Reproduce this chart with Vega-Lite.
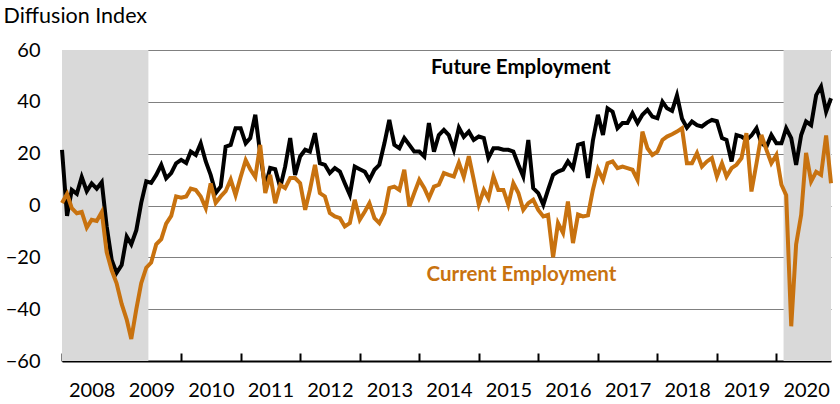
{
  "$schema": "https://vega.github.io/schema/vega-lite/v6.json",
  "width": 769,
  "height": 311,
  "autosize": {"type": "none"},
  "padding": {"left": 62, "top": 50, "right": 9, "bottom": 43},
  "background": "white",
  "config": {"view": {"stroke": null}, "font": "Lato"},
  "datasets": {
    "shade": [
      {"start": "2008-01-01", "end": "2009-06-14"},
      {"start": "2020-02-14", "end": "2020-12-01"}
    ],
    "notes": [
      {"date": "2015-09-16", "value": 53, "label": "Future Employment"},
      {"date": "2015-09-20", "value": -27, "label": "Current Employment"}
    ],
    "series": [
      {"month": "2008-01-01", "future": 21.5, "current": 1},
      {"month": "2008-02-01", "future": -4, "current": 4.5},
      {"month": "2008-03-01", "future": 6, "current": -1},
      {"month": "2008-04-01", "future": 4.5, "current": -3},
      {"month": "2008-05-01", "future": 11, "current": -2.5},
      {"month": "2008-06-01", "future": 5.5, "current": -8.5},
      {"month": "2008-07-01", "future": 8.5, "current": -5.5},
      {"month": "2008-08-01", "future": 6.5, "current": -6},
      {"month": "2008-09-01", "future": 9, "current": -2.5},
      {"month": "2008-10-01", "future": -8, "current": -18},
      {"month": "2008-11-01", "future": -21, "current": -25},
      {"month": "2008-12-01", "future": -26, "current": -30},
      {"month": "2009-01-01", "future": -23, "current": -38},
      {"month": "2009-02-01", "future": -12, "current": -44},
      {"month": "2009-03-01", "future": -15, "current": -51.5},
      {"month": "2009-04-01", "future": -9.5, "current": -40},
      {"month": "2009-05-01", "future": 1, "current": -30},
      {"month": "2009-06-01", "future": 9.3, "current": -24},
      {"month": "2009-07-01", "future": 8.7, "current": -22},
      {"month": "2009-08-01", "future": 11.8, "current": -15},
      {"month": "2009-09-01", "future": 15.7, "current": -13},
      {"month": "2009-10-01", "future": 10.5, "current": -7},
      {"month": "2009-11-01", "future": 12.5, "current": -4},
      {"month": "2009-12-01", "future": 16.3, "current": 3.5},
      {"month": "2010-01-01", "future": 17.6, "current": 3},
      {"month": "2010-02-01", "future": 16.4, "current": 3.5},
      {"month": "2010-03-01", "future": 20.8, "current": 6.5},
      {"month": "2010-04-01", "future": 19.5, "current": 6},
      {"month": "2010-05-01", "future": 24, "current": 3.5},
      {"month": "2010-06-01", "future": 17, "current": -1},
      {"month": "2010-07-01", "future": 11.8, "current": 8.5},
      {"month": "2010-08-01", "future": 4.8, "current": 1},
      {"month": "2010-09-01", "future": 7.3, "current": 3.5},
      {"month": "2010-10-01", "future": 22.7, "current": 5.5},
      {"month": "2010-11-01", "future": 23.4, "current": 10},
      {"month": "2010-12-01", "future": 29.8, "current": 4},
      {"month": "2011-01-01", "future": 29.8, "current": 11},
      {"month": "2011-02-01", "future": 24, "current": 17.5},
      {"month": "2011-03-01", "future": 26, "current": 14},
      {"month": "2011-04-01", "future": 35, "current": 11},
      {"month": "2011-05-01", "future": 20, "current": 23.4},
      {"month": "2011-06-01", "future": 7, "current": 4.8},
      {"month": "2011-07-01", "future": 14.5, "current": 11.8},
      {"month": "2011-08-01", "future": 14, "current": 0.9},
      {"month": "2011-09-01", "future": 7, "current": 8},
      {"month": "2011-10-01", "future": 15, "current": 6.7},
      {"month": "2011-11-01", "future": 26, "current": 10.6},
      {"month": "2011-12-01", "future": 11.8, "current": 10.6},
      {"month": "2012-01-01", "future": 18.9, "current": 8.6},
      {"month": "2012-02-01", "future": 21.5, "current": -1.7},
      {"month": "2012-03-01", "future": 20.8, "current": 6},
      {"month": "2012-04-01", "future": 27.9, "current": 15.7},
      {"month": "2012-05-01", "future": 16.3, "current": 4.8},
      {"month": "2012-06-01", "future": 15.7, "current": 3.5},
      {"month": "2012-07-01", "future": 12.5, "current": -2.9},
      {"month": "2012-08-01", "future": 14.4, "current": -4.2},
      {"month": "2012-09-01", "future": 13.1, "current": -4.9},
      {"month": "2012-10-01", "future": 8.6, "current": -8.1},
      {"month": "2012-11-01", "future": 4.1, "current": -6.8},
      {"month": "2012-12-01", "future": 15, "current": 2.2},
      {"month": "2013-01-01", "future": 14, "current": -5.5},
      {"month": "2013-02-01", "future": 13, "current": -2.3},
      {"month": "2013-03-01", "future": 9.9, "current": 0.9},
      {"month": "2013-04-01", "future": 13.8, "current": -4.9},
      {"month": "2013-05-01", "future": 15.7, "current": -6.8},
      {"month": "2013-06-01", "future": 24, "current": -2.9},
      {"month": "2013-07-01", "future": 33, "current": 6.7},
      {"month": "2013-08-01", "future": 23.4, "current": 7.3},
      {"month": "2013-09-01", "future": 22.1, "current": 6},
      {"month": "2013-10-01", "future": 26, "current": 13.8},
      {"month": "2013-11-01", "future": 23.4, "current": -0.4},
      {"month": "2013-12-01", "future": 20.8, "current": 4.8},
      {"month": "2014-01-01", "future": 20.8, "current": 9.9},
      {"month": "2014-02-01", "future": 18.9, "current": 6.7},
      {"month": "2014-03-01", "future": 31.8, "current": 2.8},
      {"month": "2014-04-01", "future": 20.8, "current": 7.3},
      {"month": "2014-05-01", "future": 27.2, "current": 8},
      {"month": "2014-06-01", "future": 29.2, "current": 12.5},
      {"month": "2014-07-01", "future": 27.2, "current": 11.8},
      {"month": "2014-08-01", "future": 21.5, "current": 11.2},
      {"month": "2014-09-01", "future": 30, "current": 16.5},
      {"month": "2014-10-01", "future": 26.5, "current": 11},
      {"month": "2014-11-01", "future": 28.5, "current": 19},
      {"month": "2014-12-01", "future": 25.3, "current": 10},
      {"month": "2015-01-01", "future": 26.6, "current": 0.3},
      {"month": "2015-02-01", "future": 26, "current": 6},
      {"month": "2015-03-01", "future": 18.3, "current": 2.8},
      {"month": "2015-04-01", "future": 22.1, "current": 11.2},
      {"month": "2015-05-01", "future": 22.1, "current": 6},
      {"month": "2015-06-01", "future": 21.5, "current": 6},
      {"month": "2015-07-01", "future": 21.5, "current": 0.3},
      {"month": "2015-08-01", "future": 20.8, "current": 8.6},
      {"month": "2015-09-01", "future": 15.7, "current": 4.8},
      {"month": "2015-10-01", "future": 11.2, "current": -1.7},
      {"month": "2015-11-01", "future": 25.3, "current": 0.9},
      {"month": "2015-12-01", "future": 6.7, "current": 2.2},
      {"month": "2016-01-01", "future": 4.8, "current": -1.7},
      {"month": "2016-02-01", "future": 0.3, "current": -4.2},
      {"month": "2016-03-01", "future": 6, "current": -3.6},
      {"month": "2016-04-01", "future": 11.8, "current": -20},
      {"month": "2016-05-01", "future": 13.1, "current": -6.8},
      {"month": "2016-06-01", "future": 13.8, "current": -10.6},
      {"month": "2016-07-01", "future": 17, "current": 1.5},
      {"month": "2016-08-01", "future": 14.4, "current": -14.5},
      {"month": "2016-09-01", "future": 23.4, "current": -3.5},
      {"month": "2016-10-01", "future": 24, "current": -4.2},
      {"month": "2016-11-01", "future": 10.6, "current": -3.8},
      {"month": "2016-12-01", "future": 25, "current": 6},
      {"month": "2017-01-01", "future": 35, "current": 14},
      {"month": "2017-02-01", "future": 27.2, "current": 9.9},
      {"month": "2017-03-01", "future": 37.5, "current": 16.3},
      {"month": "2017-04-01", "future": 36.2, "current": 17},
      {"month": "2017-05-01", "future": 29.8, "current": 14.4},
      {"month": "2017-06-01", "future": 31.8, "current": 15},
      {"month": "2017-07-01", "future": 31.8, "current": 14.4},
      {"month": "2017-08-01", "future": 35.6, "current": 13.8},
      {"month": "2017-09-01", "future": 31.8, "current": 9.9},
      {"month": "2017-10-01", "future": 35, "current": 28.5},
      {"month": "2017-11-01", "future": 36.9, "current": 22.1},
      {"month": "2017-12-01", "future": 34.3, "current": 19.5},
      {"month": "2018-01-01", "future": 33.7, "current": 20.8},
      {"month": "2018-02-01", "future": 40, "current": 25.3},
      {"month": "2018-03-01", "future": 37.5, "current": 26.6},
      {"month": "2018-04-01", "future": 36.5, "current": 27.5},
      {"month": "2018-05-01", "future": 42.5, "current": 28.5},
      {"month": "2018-06-01", "future": 33.5, "current": 29.8},
      {"month": "2018-07-01", "future": 30, "current": 16.3},
      {"month": "2018-08-01", "future": 32.4, "current": 16.3},
      {"month": "2018-09-01", "future": 31, "current": 20.2},
      {"month": "2018-10-01", "future": 30.5, "current": 15},
      {"month": "2018-11-01", "future": 32, "current": 17},
      {"month": "2018-12-01", "future": 33, "current": 18.3},
      {"month": "2019-01-01", "future": 32.5, "current": 11.2},
      {"month": "2019-02-01", "future": 26, "current": 16.3},
      {"month": "2019-03-01", "future": 25.3, "current": 11.2},
      {"month": "2019-04-01", "future": 17, "current": 14.4},
      {"month": "2019-05-01", "future": 27.2, "current": 15.7},
      {"month": "2019-06-01", "future": 26.6, "current": 18.3},
      {"month": "2019-07-01", "future": 25.3, "current": 27.9},
      {"month": "2019-08-01", "future": 27, "current": 5.4},
      {"month": "2019-09-01", "future": 29.8, "current": 16.3},
      {"month": "2019-10-01", "future": 24, "current": 27.2},
      {"month": "2019-11-01", "future": 22.7, "current": 21.5},
      {"month": "2019-12-01", "future": 27.2, "current": 16.3},
      {"month": "2020-01-01", "future": 24, "current": 19.5},
      {"month": "2020-02-01", "future": 24, "current": 8},
      {"month": "2020-03-01", "future": 29.8, "current": 4},
      {"month": "2020-04-01", "future": 26, "current": -46.6},
      {"month": "2020-05-01", "future": 15.7, "current": -15},
      {"month": "2020-06-01", "future": 27.2, "current": -3.6},
      {"month": "2020-07-01", "future": 32.4, "current": 20.3},
      {"month": "2020-08-01", "future": 31, "current": 9.3},
      {"month": "2020-09-01", "future": 42.6, "current": 13},
      {"month": "2020-10-01", "future": 45.9, "current": 11.8},
      {"month": "2020-11-01", "future": 36.2, "current": 27},
      {"month": "2020-12-01", "future": 41.4, "current": 8.6}
    ]
  },
  "layer": [
    {
      "data": {"name": "shade"},
      "mark": {"type": "rect", "color": "#D9D9D9"},
      "encoding": {
        "x": {
          "field": "start",
          "type": "temporal",
          "scale": {"type": "utc", "domain": [{"year": 2008, "month": 1, "date": 1, "utc": true}, {"year": 2020, "month": 12, "date": 1, "utc": true}]},
          "axis": {
            "title": null,
            "values": [
              {"year": 2008, "month": 1, "date": 1, "utc": true},
              {"year": 2009, "month": 1, "date": 1, "utc": true},
              {"year": 2010, "month": 1, "date": 1, "utc": true},
              {"year": 2011, "month": 1, "date": 1, "utc": true},
              {"year": 2012, "month": 1, "date": 1, "utc": true},
              {"year": 2013, "month": 1, "date": 1, "utc": true},
              {"year": 2014, "month": 1, "date": 1, "utc": true},
              {"year": 2015, "month": 1, "date": 1, "utc": true},
              {"year": 2016, "month": 1, "date": 1, "utc": true},
              {"year": 2017, "month": 1, "date": 1, "utc": true},
              {"year": 2018, "month": 1, "date": 1, "utc": true},
              {"year": 2019, "month": 1, "date": 1, "utc": true},
              {"year": 2020, "month": 1, "date": 1, "utc": true}
            ],
            "format": "%Y",
            "labelOffset": 29.7,
            "labelFontSize": 20,
            "labelColor": "#000000",
            "labelPadding": 27,
            "labelFlush": false,
            "labelOverlap": false,
            "tickSize": -8,
            "tickColor": "#000000",
            "tickWidth": 2,
            "domainColor": "#000000",
            "domainWidth": 2,
            "grid": false
          }
        },
        "x2": {"field": "end"}
      }
    },
    {
      "mark": {"type": "rule", "color": "#000000", "strokeWidth": 2.5},
      "encoding": {"y": {"datum": 0}}
    },
    {
      "data": {"name": "series"},
      "mark": {"type": "line", "color": "#000000", "strokeWidth": 4, "strokeJoin": "miter"},
      "encoding": {
        "x": {"field": "month", "type": "temporal"},
        "y": {
          "field": "future",
          "type": "quantitative",
          "scale": {"domain": [-60, 60], "nice": false, "zero": false},
          "axis": {
            "values": [-60, -40, -20, 0, 20, 40, 60],
            "grid": true,
            "gridColor": "#808080",
            "gridWidth": 1.2,
            "domain": false,
            "ticks": false,
            "labelPadding": 22,
            "labelFontSize": 20,
            "labelColor": "#000000",
            "title": "Diffusion Index",
            "titleAngle": 0,
            "titleAlign": "left",
            "titleBaseline": "alphabetic",
            "titleX": -59,
            "titleY": -28,
            "titleFontSize": 21.5,
            "titleFontWeight": "normal",
            "titleColor": "#000000"
          }
        }
      }
    },
    {
      "data": {"name": "series"},
      "mark": {"type": "line", "color": "#C8720F", "strokeWidth": 4, "strokeJoin": "miter"},
      "encoding": {
        "x": {"field": "month", "type": "temporal"},
        "y": {"field": "current", "type": "quantitative"}
      }
    },
    {
      "data": {"name": "notes"},
      "mark": {"type": "text", "fontSize": 20.5, "fontWeight": "bold", "align": "center", "baseline": "middle"},
      "encoding": {
        "x": {"field": "date", "type": "temporal"},
        "y": {"field": "value", "type": "quantitative"},
        "text": {"field": "label"},
        "color": {
          "field": "label",
          "type": "nominal",
          "scale": {"domain": ["Future Employment", "Current Employment"], "range": ["#000000", "#C8720F"]},
          "legend": null
        }
      }
    }
  ]
}
